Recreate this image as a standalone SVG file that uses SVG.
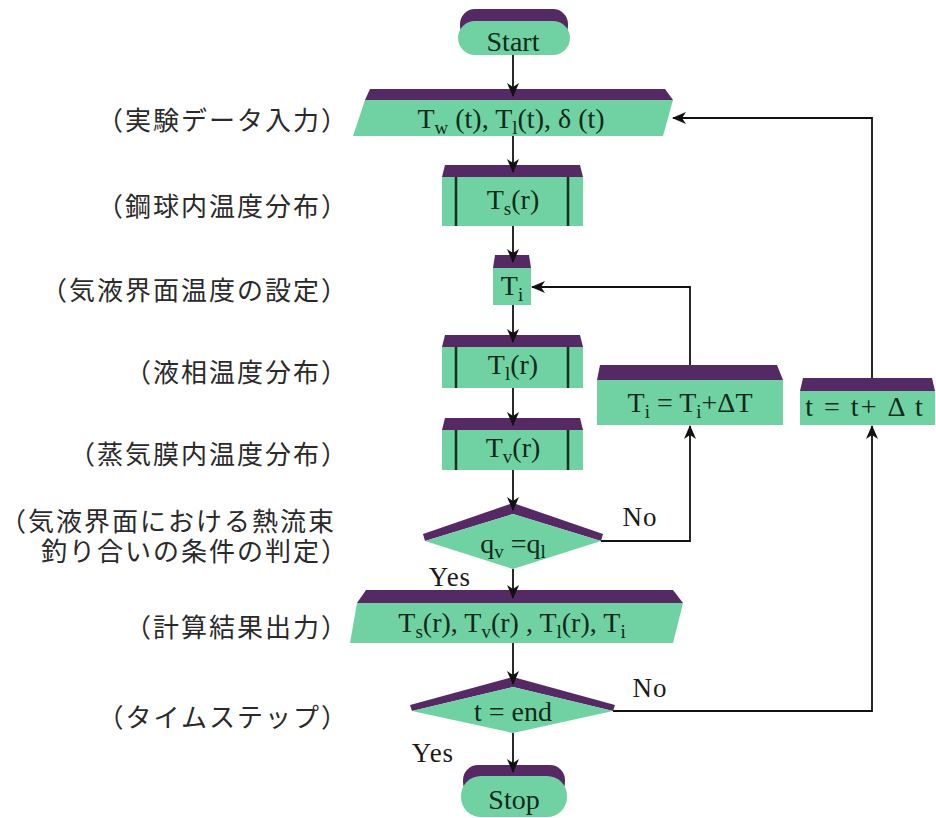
<svg xmlns="http://www.w3.org/2000/svg" width="936" height="818" viewBox="0 0 936 818">
<style>
.g{fill:#70d2a2}
.p{fill:#552a64}
.t{font-family:"Liberation Serif","Times New Roman",serif;font-size:28px;fill:#0f2a1b;text-anchor:middle}
.s{font-size:19px}
.yn{font-family:"Liberation Serif","Times New Roman",serif;font-size:27px;fill:#1a1a1a;text-anchor:middle;letter-spacing:1px}
.jp{font-family:"Noto Sans CJK JP","Noto Sans CJK SC",sans-serif;font-size:26px;letter-spacing:2px;fill:#2a2a2a;text-anchor:end;font-feature-settings:"halt"}
.bar{stroke:#12301f;stroke-width:2.5}
.c{fill:none;stroke:#111;stroke-width:1.8}
</style>
<defs>
<marker id="ah" markerUnits="userSpaceOnUse" markerWidth="14" markerHeight="12" refX="13" refY="6" orient="auto">
<path d="M0,0 L14,6 L0,12 L4,6 z" fill="#111"/>
</marker>
</defs>
<rect width="936" height="818" fill="#ffffff"/>

<g id="labels">
<text class="jp" x="336" y="130">（実験データ入力）</text>
<text class="jp" x="336" y="216">（鋼球内温度分布）</text>
<text class="jp" x="336" y="300">（気液界面温度の設定）</text>
<text class="jp" x="336" y="382">（液相温度分布）</text>
<text class="jp" x="336" y="464">（蒸気膜内温度分布）</text>
<text class="jp"><tspan x="336" y="531">（気液界面における熱流束</tspan><tspan x="336" y="561">釣り合いの条件の判定）</tspan></text>
<text class="jp" x="336" y="637">（計算結果出力）</text>
<text class="jp" x="336" y="727">（タイムステップ）</text>
</g>

<g id="start">
<rect class="p" x="460" y="9" width="108" height="32" rx="15"/>
<rect class="g" x="458" y="21" width="112" height="34" rx="17"/>
<text class="t" x="513" y="51">Start</text>
</g>

<g id="input">
<polygon class="p" points="370,89 665,89 673,100 365,100"/>
<polygon class="g" points="365,100 673,100 663,136 353,136"/>
<text class="t" x="511" y="128">T<tspan class="s" dy="6">w</tspan><tspan dy="-6"> (t), T</tspan><tspan class="s" dy="6">l</tspan><tspan dy="-6">(t),  δ (t)</tspan></text>
</g>

<g id="ts">
<polygon class="p" points="445,165 580,165 583,177 442,177"/>
<rect class="g" x="442" y="177" width="141" height="49"/>
<line class="bar" x1="456" y1="177" x2="456" y2="226"/>
<line class="bar" x1="568" y1="177" x2="568" y2="226"/>
<text class="t" x="513" y="209">T<tspan class="s" dy="6">s</tspan><tspan dy="-6">(r)</tspan></text>
</g>

<g id="ti">
<polygon class="p" points="495,255 529,255 531,268 493,268"/>
<rect class="g" x="493" y="268" width="38" height="37"/>
<text class="t" x="512" y="295">T<tspan class="s" dy="6">i</tspan></text>
</g>

<g id="tl">
<polygon class="p" points="445,335 580,335 583,347 442,347"/>
<rect class="g" x="442" y="347" width="141" height="41"/>
<line class="bar" x1="456" y1="347" x2="456" y2="388"/>
<line class="bar" x1="568" y1="347" x2="568" y2="388"/>
<text class="t" x="513" y="374">T<tspan class="s" dy="6">l</tspan><tspan dy="-6">(r)</tspan></text>
</g>

<g id="tv">
<polygon class="p" points="445,418 580,418 583,430 442,430"/>
<rect class="g" x="442" y="430" width="141" height="40"/>
<line class="bar" x1="456" y1="430" x2="456" y2="470"/>
<line class="bar" x1="568" y1="430" x2="568" y2="470"/>
<text class="t" x="513" y="457">T<tspan class="s" dy="6">v</tspan><tspan dy="-6">(r)</tspan></text>
</g>

<g id="dec1">
<polygon class="p" points="513,503 603,534 601,541 513,514 425,541 423,534"/>
<polygon class="g" points="513,514 601,541 513,569 425,541"/>
<text class="t" x="513" y="553">q<tspan class="s" dy="5">v</tspan><tspan dy="-5"> =q</tspan><tspan class="s" dy="5">l</tspan></text>
</g>

<g id="tiupd">
<polygon class="p" points="600,365 777,365 783,380 597,380"/>
<rect class="g" x="597" y="380" width="186" height="45"/>
<text class="t" x="690" y="412">T<tspan class="s" dy="6">i</tspan><tspan dy="-6"> = T</tspan><tspan class="s" dy="6">i</tspan><tspan dy="-6">+ΔT</tspan></text>
</g>

<g id="tupd">
<polygon class="p" points="803,378 932,378 935,391 800,391"/>
<rect class="g" x="800" y="391" width="135" height="34"/>
<text class="t" x="865" y="416" style="letter-spacing:2px">t = t+ Δ t</text>
</g>

<g id="output">
<polygon class="p" points="366,590 673,590 683,603 357,603"/>
<polygon class="g" points="357,603 683,603 673,643 350,643"/>
<text class="t" x="512" y="632">T<tspan class="s" dy="6">s</tspan><tspan dy="-6">(r), T</tspan><tspan class="s" dy="6">v</tspan><tspan dy="-6">(r) , T</tspan><tspan class="s" dy="6">l</tspan><tspan dy="-6">(r), T</tspan><tspan class="s" dy="6">i</tspan></text>
</g>

<g id="dec2">
<polygon class="p" points="513,677 615,705 613,711 513,687 412,711 410,705"/>
<polygon class="g" points="513,687 613,711 513,733 412,711"/>
<text class="t" x="513" y="721">t = end</text>
</g>

<g id="stop">
<rect class="p" x="463" y="765" width="102" height="32" rx="15"/>
<rect class="g" x="461" y="776" width="106" height="41" rx="20"/>
<text class="t" x="514" y="809">Stop</text>
</g>

<g id="connectors">
<line class="c" x1="513" y1="55" x2="513" y2="96" marker-end="url(#ah)"/>
<line class="c" x1="513" y1="136" x2="513" y2="172" marker-end="url(#ah)"/>
<line class="c" x1="513" y1="226" x2="513" y2="262" marker-end="url(#ah)"/>
<line class="c" x1="513" y1="305" x2="513" y2="342" marker-end="url(#ah)"/>
<line class="c" x1="513" y1="388" x2="513" y2="425" marker-end="url(#ah)"/>
<line class="c" x1="513" y1="470" x2="513" y2="510" marker-end="url(#ah)"/>
<line class="c" x1="513" y1="569" x2="513" y2="598" marker-end="url(#ah)"/>
<line class="c" x1="513" y1="643" x2="513" y2="684" marker-end="url(#ah)"/>
<line class="c" x1="513" y1="733" x2="513" y2="772" marker-end="url(#ah)"/>
<polyline class="c" points="601,541 690,541 690,426" marker-end="url(#ah)"/>
<polyline class="c" points="690,365 690,287 532,287" marker-end="url(#ah)"/>
<polyline class="c" points="613,711 872,711 872,426" marker-end="url(#ah)"/>
<polyline class="c" points="872,378 872,118 673,118" marker-end="url(#ah)"/>
<text class="yn" x="640" y="526">No</text>
<text class="yn" x="450" y="586">Yes</text>
<text class="yn" x="650" y="697">No</text>
<text class="yn" x="433" y="762">Yes</text>
</g>
</svg>
